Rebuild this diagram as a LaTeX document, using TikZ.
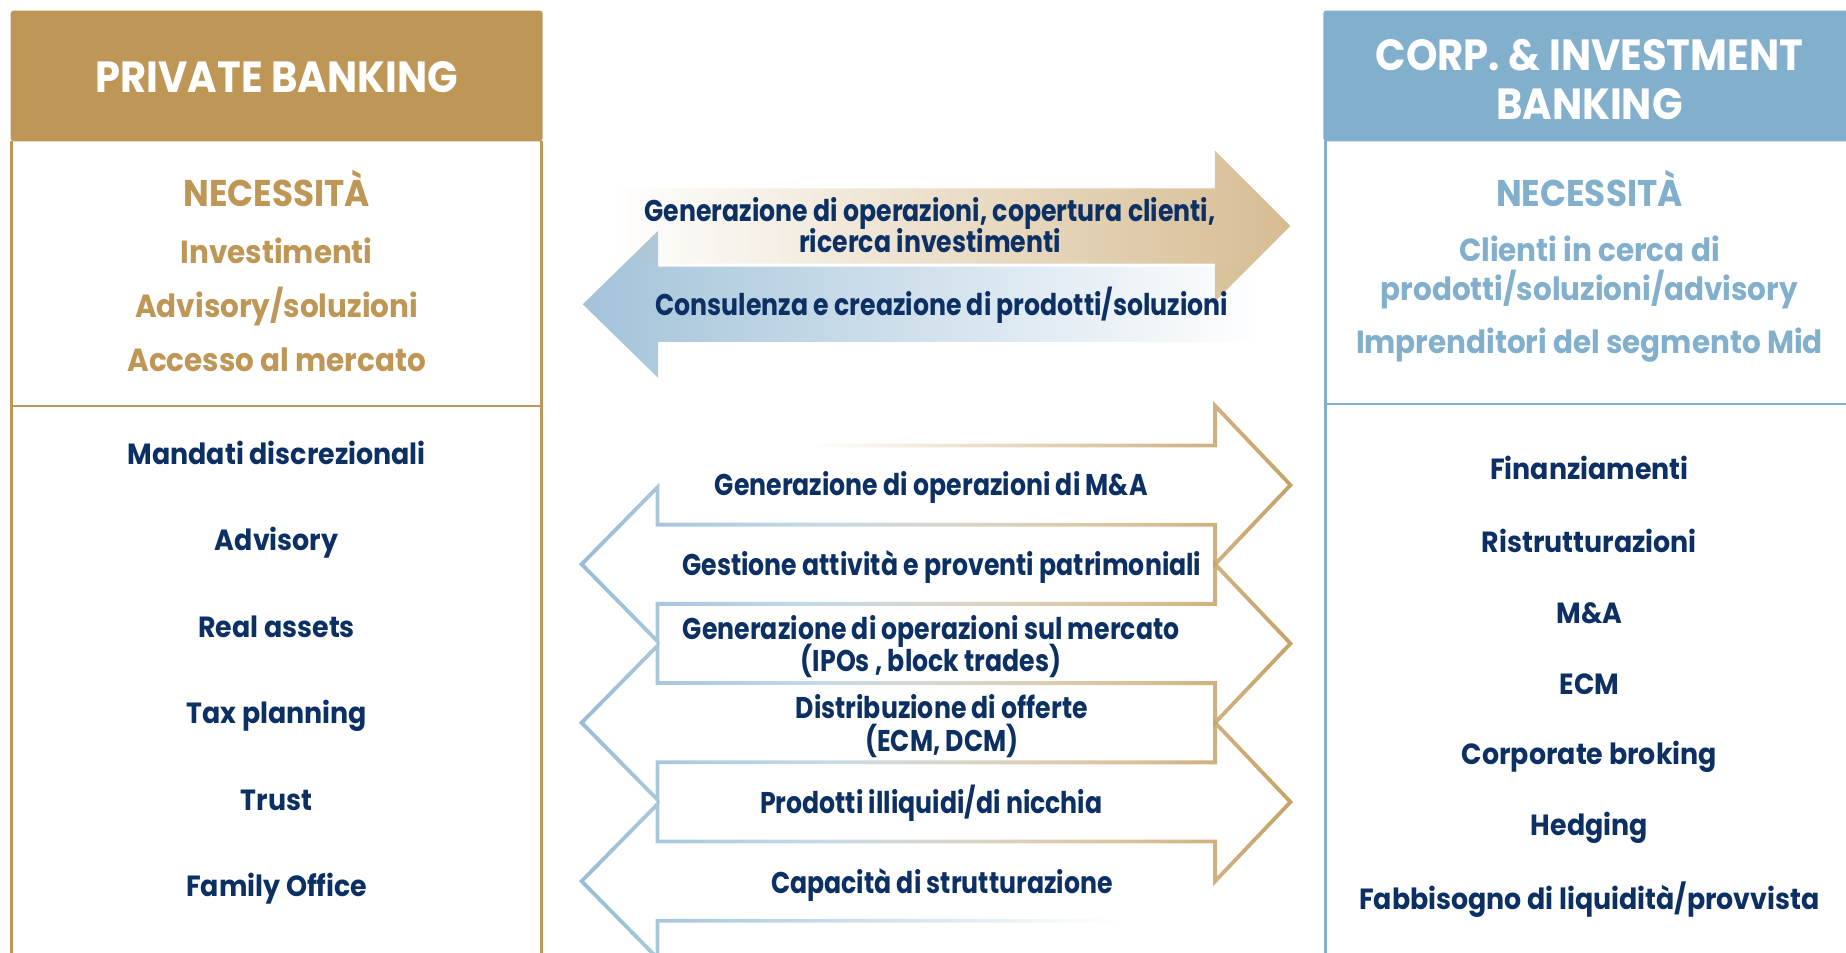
\documentclass[tikz,border=0pt]{standalone}
\usepackage{fontspec}
\setmainfont{Poppins}[FakeStretch=0.92]
\newfontfamily\condfont{Poppins}[FakeStretch=0.84]
\usetikzlibrary{fadings}
\definecolor{gold}{HTML}{BE9656}
\definecolor{goldline}{HTML}{C6A267}
\definecolor{goldlight}{HTML}{D6BC92}
\definecolor{blueh}{HTML}{82AFCC}
\definecolor{blueline}{HTML}{98BDD6}
\definecolor{bluelight}{HTML}{A3C3D9}
\definecolor{navy}{HTML}{0C3063}
\tikzfading[name=fadein, left color=transparent!100, right color=transparent!0]
\tikzfading[name=fadeout, left color=transparent!0, right color=transparent!100]
\tikzset{
  hdr/.style={text=white, font=\bfseries\fontsize{21.8}{24.7}\selectfont, anchor=base},
  needg/.style={text=gold, anchor=base},
  needb/.style={text=blueh, anchor=base},
  nec/.style={font=\bfseries\fontsize{18.6}{22}\selectfont},
  needtxt/.style={font=\bfseries\fontsize{16}{19}\selectfont},
  item/.style={text=navy, anchor=base, font=\bfseries\fontsize{14.6}{17}\selectfont},
  arrtxt/.style={text=navy, anchor=base, font=\condfont\bfseries\fontsize{15}{17}\selectfont},
  goldarrow/.style={draw=goldline, line width=1.9pt, path fading=fadein},
  bluearrow/.style={draw=blueline, line width=1.9pt, path fading=fadeout},
  panelg/.style={draw=gold, line width=1.3pt},
  panelb/.style={draw=blueh, line width=1.3pt}
}
\begin{document}
\begin{tikzpicture}[x=0.5887pt, y=-0.5887pt]
\useasboundingbox (0,0) rectangle (1568,809);
\begin{scope}
\clip (0,0) rectangle (1568,809);
% ---- left panel
\fill[gold, rounded corners=1.5pt] (9,9) rectangle (461,120);
\draw[panelg] (10,120) -- (10,815);
\draw[panelg] (460,120) -- (460,815);
\draw[panelg] (10,345) -- (460,345);
\node[hdr] (pbh) at (235,78.5) {PRIVATE BANKING};
\node[needg, nec] (pbn) at (235,175) {NECESSITÀ};
\node[needg, needtxt] (pb1) at (235,223.5) {Investimenti};
\node[needg, needtxt] (pb2) at (235,269.5) {Advisory/soluzioni};
\node[needg, needtxt] (pb3) at (235,315.5) {Accesso al mercato};
\node[item] (l1) at (235,394.5) {Mandati discrezionali};
\node[item] (l2) at (235,467.5) {Advisory};
\node[item] (l3) at (235,541.5) {Real assets};
\node[item] (l4) at (235,614.5) {Tax planning};
\node[item] (l5) at (235,688.5) {Trust};
\node[item] (l6) at (235,761.5) {Family Office};
% ---- right panel
\fill[blueh, rounded corners=1.5pt] (1124,9) rectangle (1575,120);
\draw[panelb] (1126,120) -- (1126,815);
\draw[panelb] (1126,343) -- (1575,343);
\node[hdr] (cih1) at (1350,59.5) {CORP. \& INVESTMENT};
\node[hdr] (cih2) at (1350,101.5) {BANKING};
\node[needb, nec] (cin) at (1350,175) {NECESSITÀ};
\node[needb, needtxt] (ci1) at (1350,222.5) {Clienti in cerca di};
\node[needb, needtxt] (ci2) at (1350,255.5) {prodotti/soluzioni/advisory};
\node[needb, needtxt] (ci3) at (1350,300.5) {Imprenditori del segmento Mid};
\node[item] (r1) at (1350,407.5) {Finanziamenti};
\node[item] (r2) at (1350,469.5) {Ristrutturazioni};
\node[item] (r3) at (1350,529.5) {M\&A};
\node[item] (r4) at (1350,589.5) {ECM};
\node[item] (r5) at (1350,649.5) {Corporate broking};
\node[item] (r6) at (1350,709.5) {Hedging};
\node[item] (r7) at (1350,772.5) {Fabbisogno di liquidità/provvista};
% ---- top filled arrows
\fill[bluelight, path fading=fadeout] (1071,226.5) -- (559,226.5) -- (559,196) -- (495,258.5) -- (559,321) -- (559,290.5) -- (1071,290.5) -- cycle;
\fill[goldlight, path fading=fadein] (522,160) -- (1032,160) -- (1032,128) -- (1096,192) -- (1032,256) -- (1032,224) -- (522,224) -- cycle;
\node[arrtxt] (t1) at (790,188) {Generazione di operazioni, copertura clienti,};
\node[arrtxt] (t2) at (790,214.5) {ricerca investimenti};
\node[arrtxt] (t3) at (800,268) {Consulenza e creazione di prodotti/soluzioni};
% ---- outline arrows
\foreach \c in {479.3,613.9,748.5}
  \draw[bluearrow] (950,\c-33.65) -- (558.5,\c-33.65) -- (558.5,\c-65.5) -- (494,\c) -- (558.5,\c+65.5) -- (558.5,\c+33.65) -- (950,\c+33.65);
\foreach \c in {412,546.6,681.2}
  \draw[goldarrow] (690,\c-33.65) -- (1032,\c-33.65) -- (1032,\c-67.3) -- (1096,\c) -- (1032,\c+67.3) -- (1032,\c+33.65) -- (690,\c+33.65);
\node[arrtxt] (a1) at (791,421) {Generazione di operazioni di M\&A};
\node[arrtxt] (a2) at (800,489) {Gestione attività e proventi patrimoniali};
\node[arrtxt] (a3) at (791,543) {Generazione di operazioni sul mercato};
\node[arrtxt] (a4) at (791,570) {(IPOs , block trades)};
\node[arrtxt] (a5) at (800,610) {Distribuzione di offerte};
\node[arrtxt] (a6) at (800,638) {(ECM, DCM)};
\node[arrtxt] (a7) at (791,691) {Prodotti illiquidi/di nicchia};
\node[arrtxt] (a8) at (800,759) {Capacità di strutturazione};
\end{scope}
\end{tikzpicture}
\end{document}
